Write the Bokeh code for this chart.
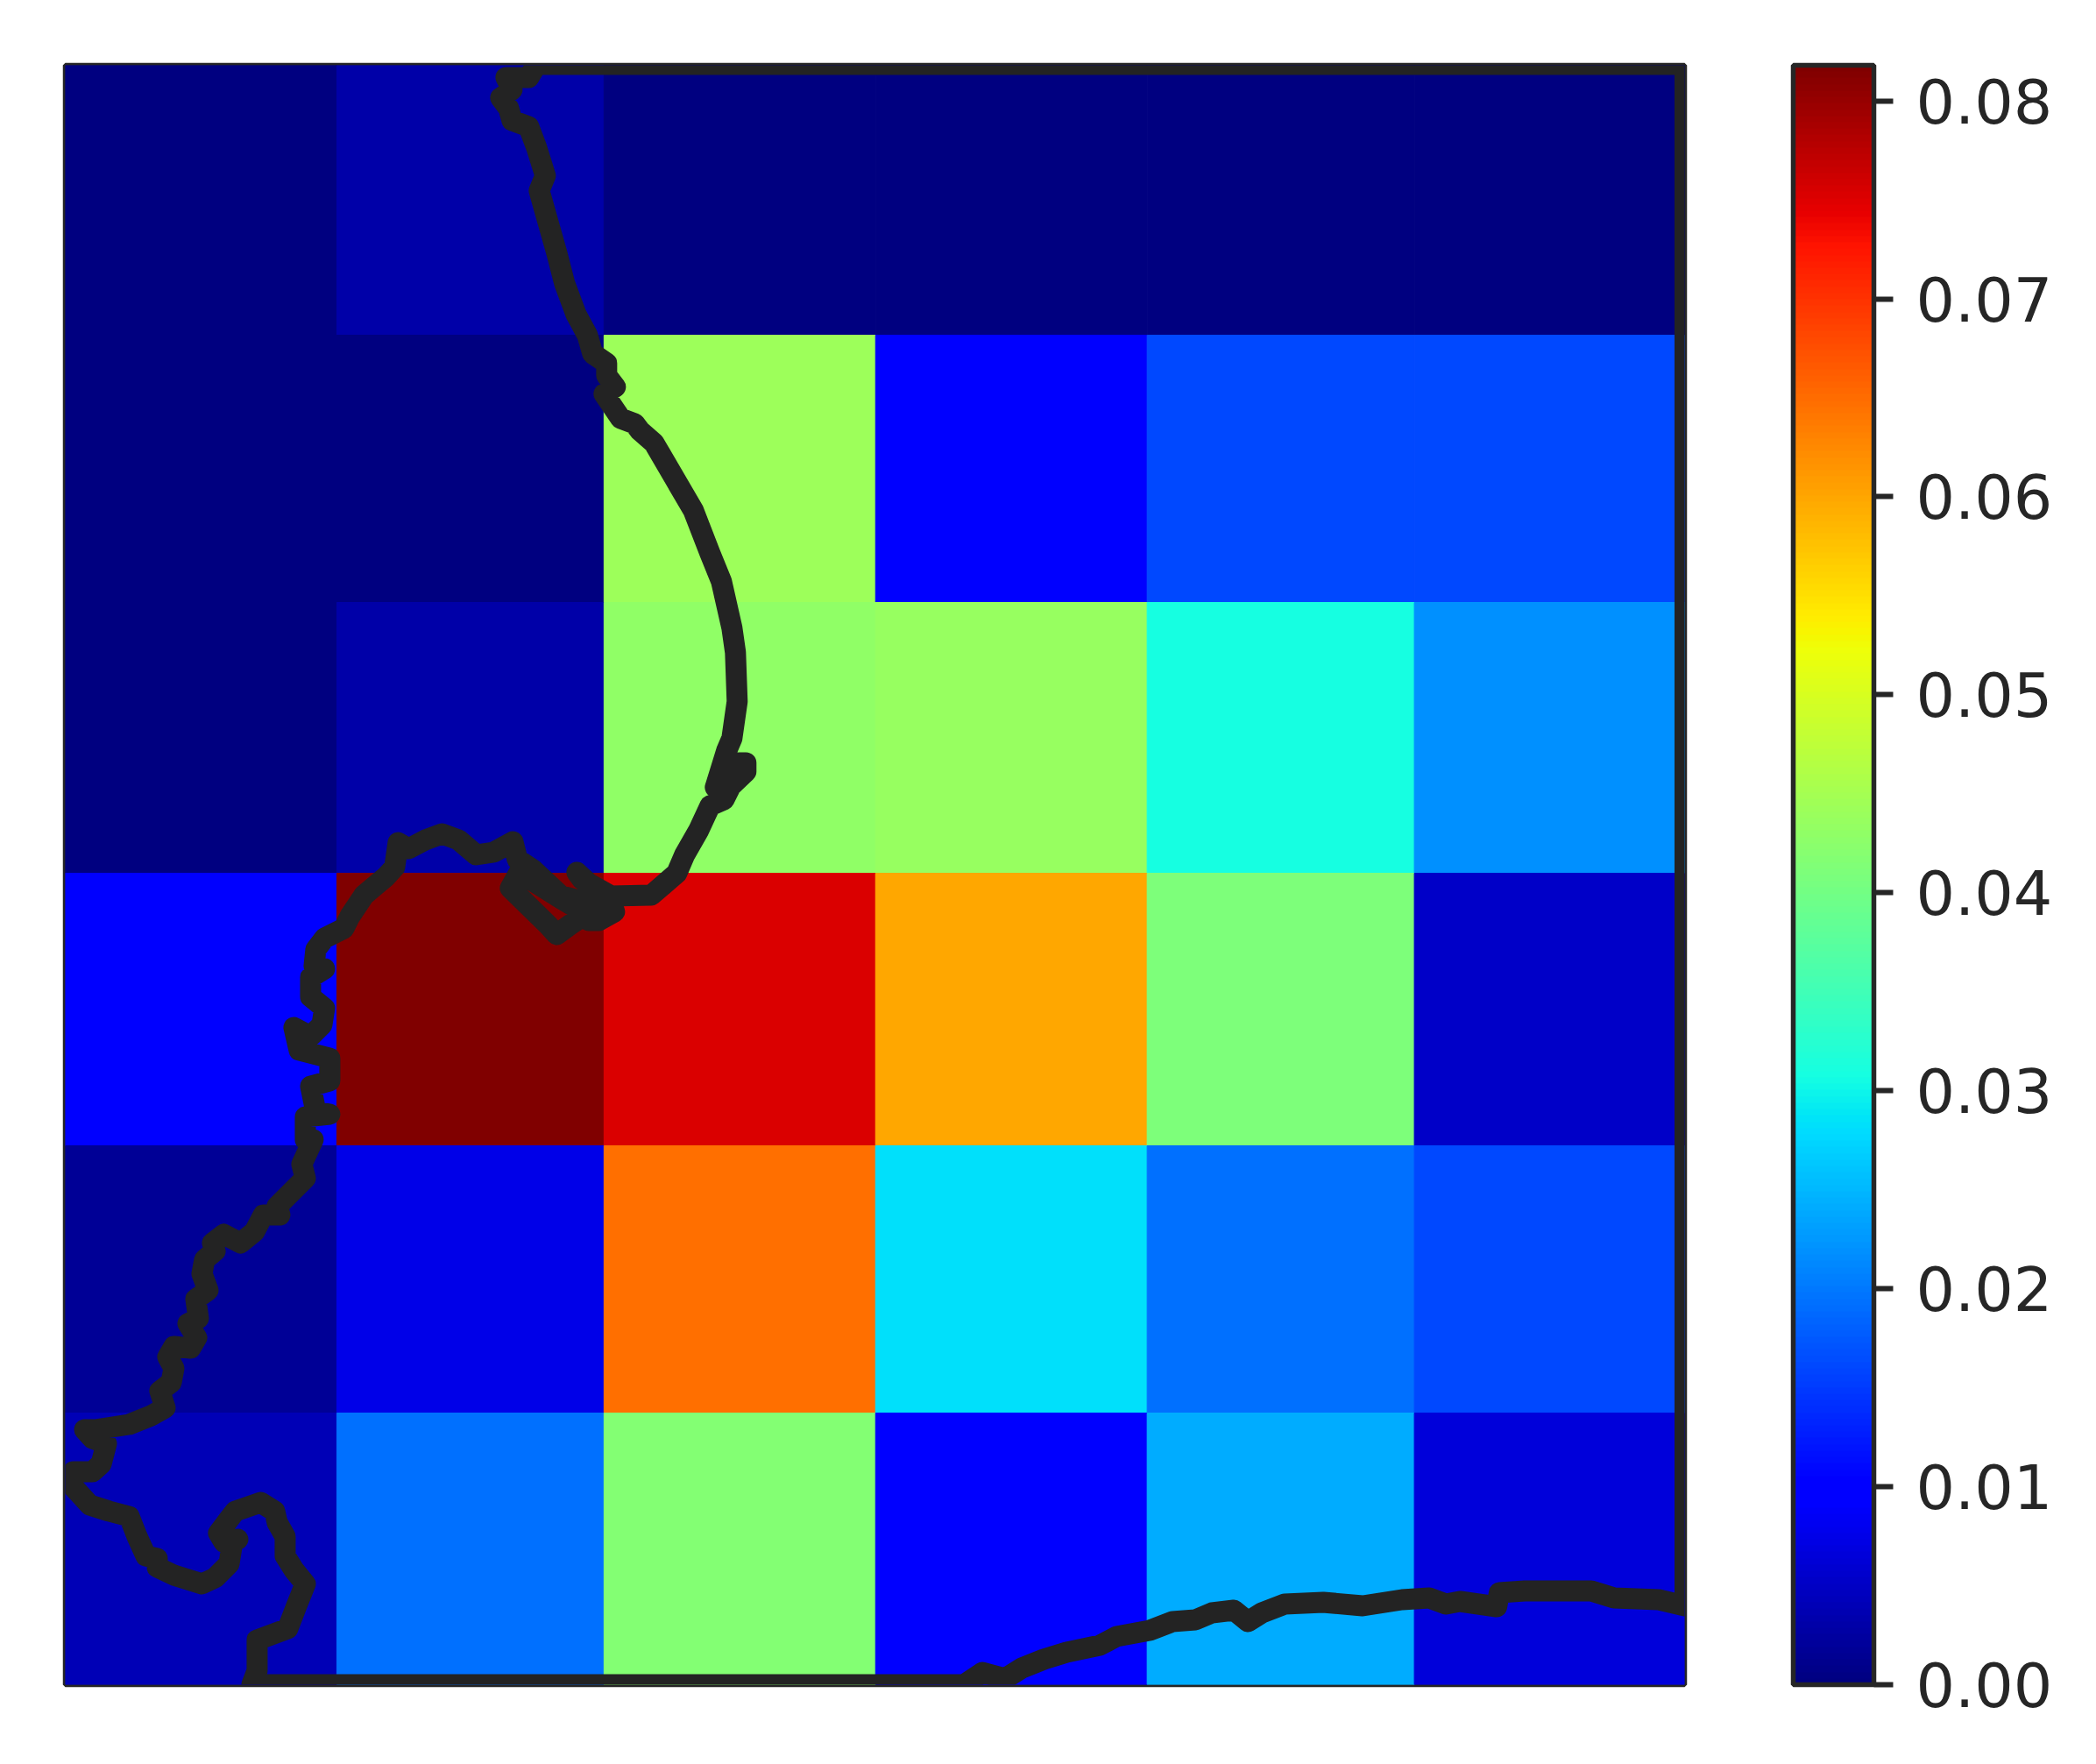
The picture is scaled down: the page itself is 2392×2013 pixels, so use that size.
from bokeh.embed import file_html
from bokeh.resources import INLINE
from bokeh.plotting import figure
from bokeh.models import ColumnDataSource, LinearColorMapper, ColorBar, FixedTicker, NumeralTickFormatter, Range1d
from bokeh.transform import transform
import numpy as np

x_edges = [74, 384, 689, 999, 1309, 1614, 1922.5]
y_edges = [74, 382, 687, 996, 1307, 1612, 1922]

row_0 = [0.0001, 0.0030, 0.0001, 0.0003, 0.0001, 0.0001]
row_1 = [0.0001, 0.0000, 0.0443, 0.0095, 0.0160, 0.0160]
row_2 = [0.0001, 0.0030, 0.0431, 0.0436, 0.0307, 0.0218]
row_3 = [0.0095, 0.0818, 0.0753, 0.0599, 0.0410, 0.0054]
row_4 = [0.0018, 0.0074, 0.0646, 0.0282, 0.0192, 0.0160]
row_5 = [0.0039, 0.0192, 0.0416, 0.0095, 0.0240, 0.0065]
rows = [row_0, row_1, row_2, row_3, row_4, row_5]

coast_x = [1923, 1923, 612, 603, 583, 577, 584, 571, 580, 584, 603, 612, 622, 615, 622, 635, 644, 657, 670, 676, 692, 692, 702, 689, 708, 724, 730, 746, 791, 810, 823, 835, 839, 841, 835, 829, 816, 829, 851, 851, 843, 835, 826, 810, 797, 781, 772, 743, 697, 672, 658, 664, 697, 701, 683, 672, 690, 665, 650, 635, 625, 582, 592, 640, 665, 680, 640, 608, 590, 585, 563, 543, 523, 504, 485, 466, 454, 450, 440, 415, 399, 392, 370, 360, 358, 370, 354, 354, 370, 367, 354, 335, 341, 376, 376, 354, 360, 376, 348, 348, 357, 344, 348, 332, 316, 319, 300, 290, 274, 255, 242, 245, 233, 230, 237, 223, 226, 214, 224, 217, 198, 191, 198, 195, 182, 188, 172, 147, 108, 96, 105, 121, 115, 105, 83, 82, 102, 124, 147, 156, 166, 179, 179, 198, 230, 245, 261, 265, 271, 255, 249, 261, 268, 297, 313, 316, 325, 325, 335, 348, 338, 328, 293, 293, 287, 293, 1100, 1121, 1147, 1166, 1191, 1217, 1255, 1274, 1312, 1338, 1364, 1383, 1408, 1424, 1440, 1466, 1510, 1555, 1600, 1631, 1650, 1666, 1708, 1711, 1740, 1772, 1816, 1842, 1893, 1923]
coast_y = [1832, 73, 73, 88, 88, 88, 102, 111, 123, 137, 144, 168, 200, 217, 242, 288, 323, 358, 382, 403, 414, 428, 441, 449, 477, 483, 491, 505, 582, 631, 663, 716, 744, 800, 842, 856, 898, 901, 880, 870, 870, 894, 912, 919, 947, 975, 996, 1021, 1022, 1008, 995, 1003, 1028, 1040, 1050, 1050, 1038, 1045, 1055, 1066, 1055, 1013, 995, 1025, 1040, 1032, 1022, 992, 980, 960, 972, 975, 958, 951, 958, 968, 961, 989, 1000, 1021, 1045, 1059, 1070, 1083, 1102, 1105, 1115, 1137, 1150, 1169, 1182, 1172, 1198, 1207, 1233, 1239, 1268, 1271, 1274, 1300, 1300, 1328, 1344, 1360, 1376, 1386, 1386, 1405, 1418, 1408, 1418, 1427, 1437, 1453, 1472, 1482, 1504, 1510, 1526, 1538, 1536, 1548, 1561, 1577, 1587, 1606, 1615, 1625, 1631, 1631, 1641, 1647, 1670, 1679, 1679, 1695, 1717, 1724, 1730, 1753, 1775, 1778, 1788, 1797, 1807, 1800, 1784, 1759, 1756, 1759, 1749, 1733, 1724, 1714, 1724, 1737, 1753, 1775, 1791, 1807, 1832, 1858, 1871, 1906, 1922, 1922, 1922, 1908, 1915, 1903, 1893, 1885, 1877, 1867, 1860, 1850, 1848, 1840, 1837, 1850, 1840, 1830, 1828, 1832, 1825, 1823, 1830, 1827, 1833, 1817, 1815, 1815, 1815, 1823, 1825, 1832]

tick_values = [0.00, 0.01, 0.02, 0.03, 0.04, 0.05, 0.06, 0.07, 0.08]
value_max = 0.0818

# matplotlib "jet" anchors, per channel
jet_r_t, jet_r_v = [0, 0.35, 0.66, 0.89, 1], [0, 0, 1, 1, 0.5]
jet_g_t, jet_g_v = [0, 0.125, 0.375, 0.64, 0.91, 1], [0, 0, 1, 1, 0, 0]
jet_b_t, jet_b_v = [0, 0.11, 0.34, 0.65, 1], [0.5, 1, 1, 0, 0]
ts = np.linspace(0, 1, 256)
jet = ["#%02x%02x%02x" % (int(round(255 * np.interp(t, jet_r_t, jet_r_v))),
                          int(round(255 * np.interp(t, jet_g_t, jet_g_v))),
                          int(round(255 * np.interp(t, jet_b_t, jet_b_v)))) for t in ts]

INK = "#262626"
mapper = LinearColorMapper(palette=jet, low=0, high=value_max)

left, right, top, bottom, val = [], [], [], [], []
for r, row in enumerate(rows):
    for c, v in enumerate(row):
        left.append(x_edges[c]); right.append(x_edges[c + 1])
        top.append(y_edges[r]); bottom.append(y_edges[r + 1]); val.append(v)
src = ColumnDataSource(dict(left=left, right=right, top=top, bottom=bottom, val=val))

p = figure(output_backend="svg", toolbar_location=None,
           frame_width=1848, frame_height=1848,
           x_range=Range1d(74, 1922.5), y_range=Range1d(1922, 74),
           x_axis_location=None, y_axis_location=None,
           min_border_left=74, min_border_top=74, min_border_bottom=80, min_border_right=450,
           background_fill_color="white", border_fill_color="white")
p.grid.visible = False
p.outline_line_color = INK
p.outline_line_width = 5.5

p.quad(left="left", right="right", top="top", bottom="bottom", source=src,
       fill_color=transform("val", mapper), line_color=transform("val", mapper), line_width=1)
p.line(coast_x, coast_y, line_color="#232323", line_width=24, line_join="round", line_cap="round")

cb = ColorBar(color_mapper=mapper, ticker=FixedTicker(ticks=tick_values),
              formatter=NumeralTickFormatter(format="0.00"),
              width=92, height=1848, padding=0, margin=0, location=(1972, 0),
              major_label_text_font="DejaVu Sans", major_label_text_font_size="70px",
              major_label_text_color=INK, label_standoff=26,
              major_tick_in=0, major_tick_out=22, major_tick_line_color=INK, major_tick_line_width=6,
              minor_tick_line_color=None,
              bar_line_color=INK, bar_line_width=5.5, border_line_color=None,
              background_fill_color=None)
p.add_layout(cb, "center")

open("out.html", "w").write(file_html(p, INLINE))
